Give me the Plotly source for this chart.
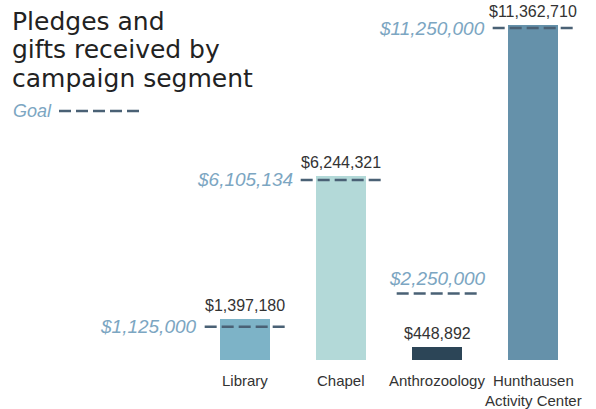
import plotly.graph_objects as go

# ---- data ----
categories = ["Library", "Chapel", "Anthrozoology", "Hunthausen<br>Activity Center"]
received = [1397180, 6244321, 448892, 11362710]
goals = [1125000, 6105134, 2250000, 11250000]
received_labels = ["$1,397,180", "$6,244,321", "$448,892", "$11,362,710"]
goal_labels = ["$1,125,000", "$6,105,134", "$2,250,000", "$11,250,000"]
bar_colors = ["#7db3c7", "#b3d9d8", "#2c4557", "#6591aa"]

# ---- layout geometry (pixels) ----
W, H = 596, 409
ML, MR, MT, MB = 197, 15, 10, 49
PW, PH = W - ML - MR, H - MT - MB
YMAX = 11864000

def px(x):
    return (x - ML) / PW

def py(y):
    return (H - MB - y) / PH

DASH_COLOR = "#4a6175"
GOAL_TEXT = "#7ca6c2"
TEXT = "#333333"
LABEL_FONT = "Liberation Sans, Arial, sans-serif"
GOAL_FONT = "Liberation Sans, Arial, sans-serif"

xs = list(range(len(categories)))

fig = go.Figure()
fig.add_trace(go.Bar(
    x=xs, y=received, width=0.53,
    marker=dict(color=bar_colors, line=dict(width=0)),
    hoverinfo="skip", showlegend=False,
))

# goal dashed lines
gx, gy = [], []
for i, g in zip(xs, goals):
    gx += [i - 0.42, i + 0.42, None]
    gy += [g, g, None]
fig.add_trace(go.Scatter(
    x=gx, y=gy, mode="lines",
    line=dict(color=DASH_COLOR, width=2.5, dash="12px,5px"),
    hoverinfo="skip", showlegend=False,
))

ann = []
# value labels
for i, v, t in zip(xs, received, received_labels):
    ann.append(dict(x=i, y=v, xref="x", yref="y", text=t, showarrow=False,
                    yanchor="bottom", yshift=3,
                    font=dict(family=LABEL_FONT, size=16, color=TEXT)))
# goal labels
for i, g, t in zip(xs, goals, goal_labels):
    if categories[i] == "Anthrozoology":
        ann.append(dict(x=i, y=g, xref="x", yref="y", text="<i>%s</i>" % t,
                        showarrow=False, yanchor="bottom", yshift=3,
                        font=dict(family=GOAL_FONT, size=19, color=GOAL_TEXT)))
    else:
        ann.append(dict(x=i - 0.42, y=g, xref="x", yref="y", text="<i>%s</i>" % t,
                        showarrow=False, xanchor="right", yanchor="middle", xshift=-6,
                        font=dict(family=GOAL_FONT, size=19, color=GOAL_TEXT)))
# category labels
for i, c in zip(xs, categories):
    ann.append(dict(x=i, y=0, xref="x", yref="paper", text=c, showarrow=False,
                    yanchor="top", yshift=-10,
                    font=dict(family=LABEL_FONT, size=15, color=TEXT)))

# title
TITLE_FONT = dict(family="DejaVu Sans, Liberation Sans, sans-serif", size=25, color="#222222")
for line, yc in zip(["Pledges and", "gifts received by", "campaign segment"], [21, 49, 78]):
    ann.append(dict(x=px(10), y=py(yc), xref="paper", yref="paper", text=line,
                    showarrow=False, xanchor="left", yanchor="middle", font=TITLE_FONT))
# goal key
ann.append(dict(x=px(11), y=py(111), xref="paper", yref="paper", text="<i>Goal</i>",
                showarrow=False, xanchor="left", yanchor="middle",
                font=dict(family=GOAL_FONT, size=18, color=GOAL_TEXT)))

shapes = [dict(type="line", xref="paper", yref="paper", x0=px(59), x1=px(140),
               y0=py(111), y1=py(111),
               line=dict(color=DASH_COLOR, width=2.5, dash="12px,5px"))]

fig.update_layout(
    width=W, height=H,
    margin=dict(l=ML, r=MR, t=MT, b=MB),
    paper_bgcolor="white", plot_bgcolor="white",
    xaxis=dict(range=[-0.5, 3.5], visible=False, fixedrange=True),
    yaxis=dict(range=[0, YMAX], visible=False, fixedrange=True),
    annotations=ann, shapes=shapes,
    bargap=0,
)

fig.write_html("out.html", config={"displayModeBar": False},
               post_script="document.body.style.margin='0';document.body.style.overflow='hidden';")
